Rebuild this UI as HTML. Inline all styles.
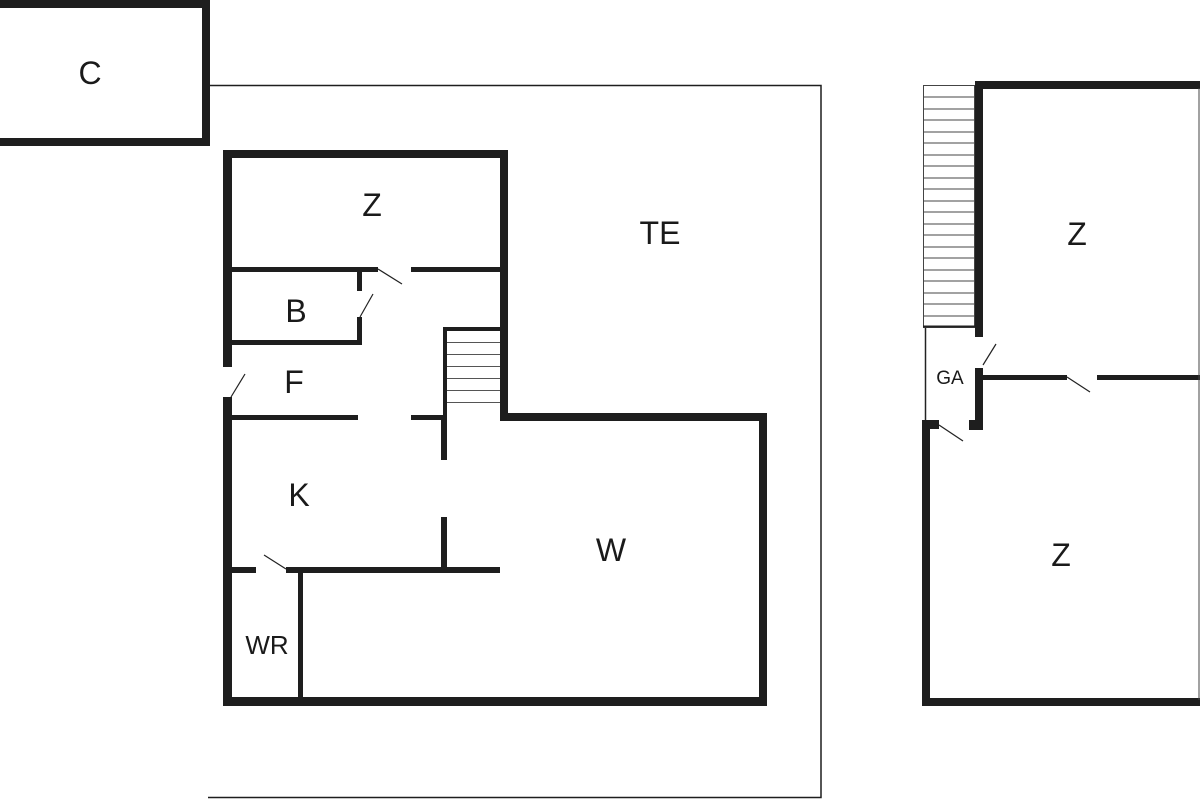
<!DOCTYPE html>
<html><head><meta charset="utf-8"><style>
html,body{margin:0;padding:0;background:#fff;width:1200px;height:800px;overflow:hidden}
svg{display:block}
text{font-family:"Liberation Sans",Arial,sans-serif;fill:#1a1a1a}
</style></head><body>
<svg width="1200" height="800" viewBox="0 0 1200 800" xmlns="http://www.w3.org/2000/svg">
<g fill="#1e1e1e">
<!-- C box -->
<rect x="0" y="0" width="210" height="8"/>
<rect x="0" y="138" width="210" height="8"/>
<rect x="202" y="0" width="8" height="146"/>
</g>
<!-- terrace thin outline -->
<path d="M210 85.5 H821 V797.5 H208" fill="none" stroke="#1e1e1e" stroke-width="1.5"/>
<g fill="#1e1e1e">
<!-- main building -->
<rect x="223" y="150" width="285" height="8"/>
<rect x="223" y="150" width="9" height="217"/>
<rect x="223" y="397" width="9" height="309"/>
<rect x="500" y="150" width="8" height="271"/>
<rect x="231" y="267" width="147" height="5"/>
<rect x="411" y="267" width="90" height="5"/>
<rect x="357" y="272" width="5" height="19"/>
<rect x="357" y="317" width="5" height="28"/>
<rect x="231" y="340" width="131" height="5"/>
<rect x="231" y="415" width="127" height="5"/>
<rect x="411" y="415" width="36" height="5"/>
<rect x="443" y="327" width="4" height="93"/>
<rect x="443" y="327" width="57" height="4"/>
<rect x="441" y="415" width="6" height="45"/>
<rect x="441" y="517" width="6" height="55"/>
<rect x="500" y="413" width="267" height="8"/>
<rect x="759" y="413" width="8" height="293"/>
<rect x="223" y="697" width="544" height="9"/>
<rect x="231" y="567" width="25" height="6"/>
<rect x="286" y="567" width="214" height="6"/>
<rect x="298" y="573" width="5" height="125"/>
</g>
<!-- stair lines main -->
<g stroke="#555" stroke-width="1">
<line x1="447" y1="342.5" x2="500" y2="342.5"/>
<line x1="447" y1="354.5" x2="500" y2="354.5"/>
<line x1="447" y1="366.5" x2="500" y2="366.5"/>
<line x1="447" y1="378.5" x2="500" y2="378.5"/>
<line x1="447" y1="390.5" x2="500" y2="390.5"/>
<line x1="447" y1="402.5" x2="500" y2="402.5"/>
</g>
<!-- door swings -->
<g stroke="#222" stroke-width="1.2">
<line x1="378" y1="269" x2="402" y2="284"/>
<line x1="360" y1="317" x2="373" y2="294"/>
<line x1="231" y1="397" x2="245" y2="374"/>
<line x1="264" y1="555" x2="286" y2="569"/>
<line x1="983" y1="365" x2="996" y2="344"/>
<line x1="1067" y1="377" x2="1090" y2="392"/>
<line x1="939" y1="425" x2="963" y2="441"/>
</g>
<!-- right building -->
<g fill="#1e1e1e">
<rect x="975" y="81" width="225" height="8"/>
<rect x="975" y="81" width="8" height="256"/>
<rect x="975" y="368" width="8" height="62"/>
<rect x="983" y="375" width="84" height="5"/>
<rect x="1097" y="375" width="103" height="5"/>
<rect x="922" y="420" width="17" height="9"/>
<rect x="969" y="420" width="14" height="10"/>
<rect x="922" y="420" width="8" height="286"/>
<rect x="922" y="698" width="278" height="8"/>
</g>
<line x1="1199" y1="88" x2="1199" y2="700" stroke="#444" stroke-width="1"/>
<line x1="925.5" y1="327" x2="925.5" y2="420" stroke="#222" stroke-width="1.5"/>
<!-- right stairs -->
<g stroke="#444" stroke-width="1" fill="none">
<rect x="923.5" y="85.5" width="51" height="242"/>
<line x1="923" y1="97" x2="975" y2="97"/><line x1="923" y1="109" x2="975" y2="109"/>
<line x1="923" y1="120" x2="975" y2="120"/><line x1="923" y1="132" x2="975" y2="132"/>
<line x1="923" y1="143" x2="975" y2="143"/><line x1="923" y1="155" x2="975" y2="155"/>
<line x1="923" y1="166" x2="975" y2="166"/><line x1="923" y1="178" x2="975" y2="178"/>
<line x1="923" y1="189" x2="975" y2="189"/><line x1="923" y1="201" x2="975" y2="201"/>
<line x1="923" y1="212" x2="975" y2="212"/><line x1="923" y1="224" x2="975" y2="224"/>
<line x1="923" y1="235" x2="975" y2="235"/><line x1="923" y1="247" x2="975" y2="247"/>
<line x1="923" y1="258" x2="975" y2="258"/><line x1="923" y1="270" x2="975" y2="270"/>
<line x1="923" y1="281" x2="975" y2="281"/><line x1="923" y1="293" x2="975" y2="293"/>
<line x1="923" y1="304" x2="975" y2="304"/><line x1="923" y1="316" x2="975" y2="316"/>
</g>
<line x1="923" y1="326.5" x2="975" y2="326.5" stroke="#222" stroke-width="2"/>
<!-- labels -->
<g font-size="32" text-anchor="middle">
<text x="90" y="84">C</text>
<text x="372" y="216">Z</text>
<text x="660" y="244">TE</text>
<text x="296" y="322">B</text>
<text x="294" y="393">F</text>
<text x="299" y="506">K</text>
<text x="611" y="561">W</text>
<text x="1077" y="245">Z</text>
<text x="1061" y="566">Z</text>
</g>
<text x="267" y="654" font-size="26" text-anchor="middle">WR</text>
<text x="950" y="384" font-size="19" text-anchor="middle">GA</text>
</svg>
</body></html>
